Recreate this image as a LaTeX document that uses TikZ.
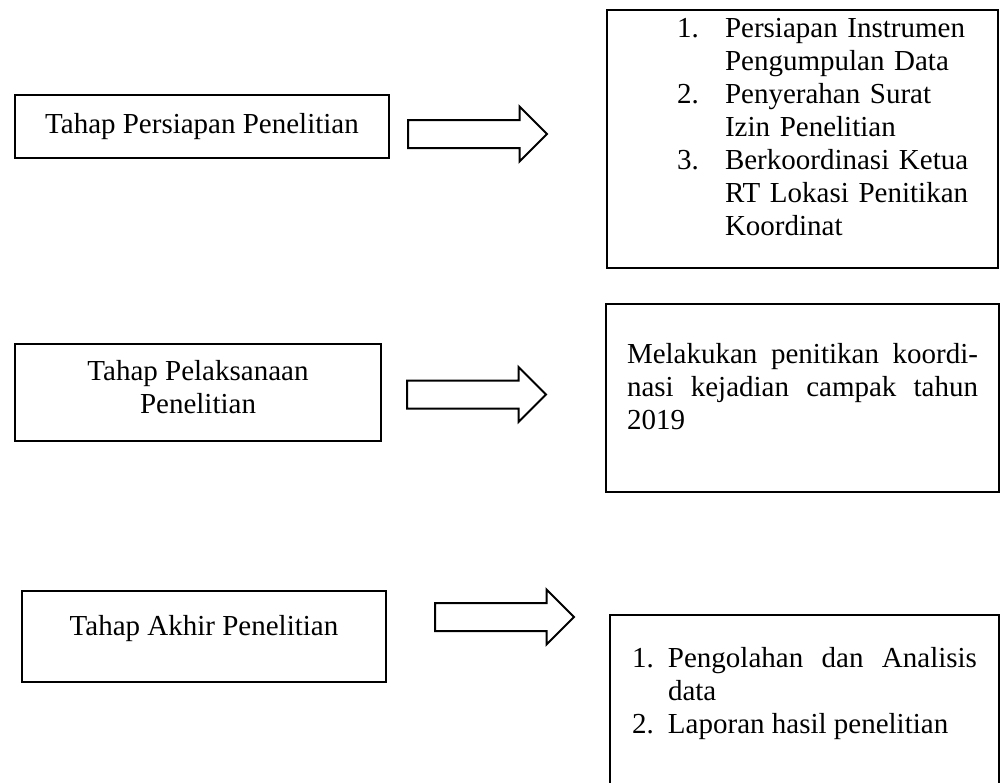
\documentclass[tikz,border=0pt]{standalone}
\usepackage{fontspec}
\setmainfont{Liberation Serif}
\usetikzlibrary{shapes.arrows}

\newcommand{\butir}[2]{\hspace*{25pt}\makebox[24pt][l]{#1}#2}
\newcommand{\lanjut}[1]{\hspace*{49pt}#1}
\newcommand{\ganjal}[1]{\rule[-#1]{0pt}{#1}}

\tikzset{
  tahap/.style={draw, line width=1pt, align=center, inner sep=0pt},
  uraian/.style={draw, line width=1pt, inner sep=0pt},
  panah/.style={draw, line width=1pt, single arrow, single arrow head extend=6.75pt,
    inner xsep=0pt, inner ysep=6.5pt, minimum height=69.5pt, anchor=tail}
}

\begin{document}
\begin{tikzpicture}[x=0.5pt, y=-0.5pt, font={\fontsize{14.5}{16.5}\selectfont}]
  \useasboundingbox (0,0) rectangle (1000,782);

  % tahap penelitian (kiri)
  \node[tahap, minimum width=187pt, minimum height=31.5pt] (persiapan) at (202,126.5) {Tahap Persiapan Penelitian};
  \node[tahap, minimum width=183pt, minimum height=48.5pt] (pelaksanaan) at (198,392.5) {Tahap Pelaksanaan\\Penelitian\ganjal{6pt}};
  \node[tahap, minimum width=182pt, minimum height=45.5pt] (akhir) at (204,636.5) {Tahap Akhir Penelitian\ganjal{11.5pt}};

  % panah
  \node[panah] (panahA) at (407,134) {};
  \node[panah] (panahB) at (406,394.5) {};
  \node[panah] (panahC) at (434,617) {};

  % uraian kegiatan (kanan)
  \node[uraian, text width=175.5pt, align=left, minimum width=195.5pt, minimum height=129pt] (kegiatanA) at (802.5,139) {%
    \butir{1.}{Persiapan Instrumen}\\
    \lanjut{Pengumpulan Data}\\
    \butir{2.}{Penyerahan Surat}\\
    \lanjut{Izin Penelitian}\\
    \butir{3.}{Berkoordinasi Ketua}\\
    \lanjut{RT Lokasi Penitikan}\\
    \lanjut{Koordinat}\ganjal{12pt}};
  \node[uraian, text width=175.5pt, align=justify, minimum width=196.5pt, minimum height=94pt] (kegiatanB) at (802.5,398) {%
    Melakukan penitikan koordi-\linebreak nasi kejadian campak tahun\linebreak 2019\ganjal{12pt}};
  \node[uraian, text width=172.5pt, align=justify, minimum width=194.5pt, minimum height=87pt] (kegiatanC) at (804.5,702) {%
    \makebox[18pt][l]{1.}Pengolahan dan Analisis\linebreak
    \hspace*{18pt}data\\
    \makebox[18pt][l]{2.}Laporan hasil penelitian\ganjal{12pt}};
\end{tikzpicture}
\end{document}
